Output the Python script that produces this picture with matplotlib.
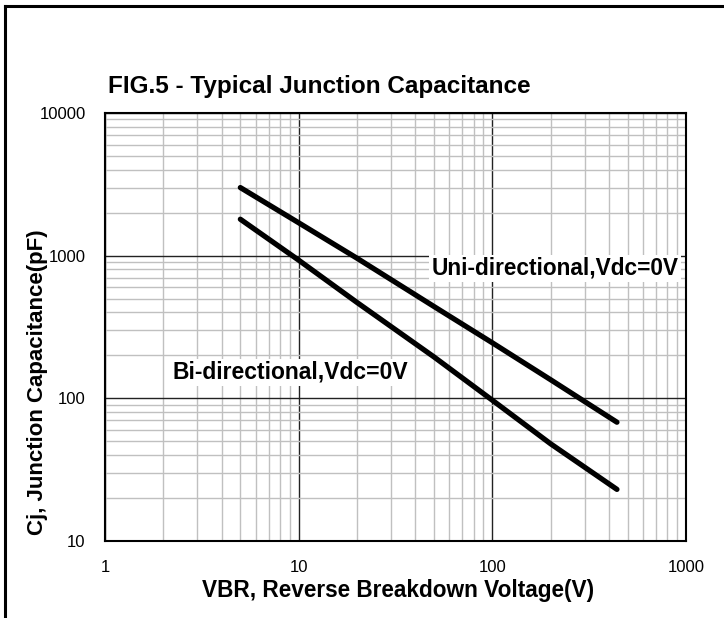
import matplotlib
matplotlib.use("Agg")
import matplotlib.pyplot as plt
from matplotlib.lines import Line2D
from matplotlib.ticker import LogLocator, NullFormatter, FixedLocator, FixedFormatter

plt.rcParams['font.family'] = ['Liberation Sans', 'DejaVu Sans']

# data
vbr_uni = [5, 10, 20, 50, 100, 200, 440]
cj_uni = [3000, 1700, 960, 440, 245, 135, 68]
vbr_bi = [5, 10, 20, 50, 100, 200, 440]
cj_bi = [1800, 930, 470, 195, 97, 48, 23]

x_ticks = [1, 10, 100, 1000]
y_ticks = [10, 100, 1000, 10000]

fig = plt.figure(figsize=(7.24, 6.18), dpi=100)
ax = fig.add_axes([0.145, 0.1246, 0.8025, 0.6926])

ax.set_xscale('log')
ax.set_yscale('log')
ax.set_xlim(1, 1000)
ax.set_ylim(10, 10000)

ax.plot(vbr_uni, cj_uni, color='black', linewidth=3.8, solid_capstyle='round', zorder=3)
ax.plot(vbr_bi, cj_bi, color='black', linewidth=3.8, solid_capstyle='round', zorder=3)

# grid: dark majors, light gray minors
ax.xaxis.set_minor_locator(LogLocator(base=10, subs=range(2, 10)))
ax.yaxis.set_minor_locator(LogLocator(base=10, subs=range(2, 10)))
ax.xaxis.set_minor_formatter(NullFormatter())
ax.yaxis.set_minor_formatter(NullFormatter())
ax.grid(which='minor', color='#c0c0c0', linewidth=1.0)
ax.grid(which='major', color='#222222', linewidth=1.0)
ax.set_axisbelow(True)

ax.xaxis.set_major_locator(FixedLocator(x_ticks))
ax.xaxis.set_major_formatter(FixedFormatter([str(v) for v in x_ticks]))
ax.yaxis.set_major_locator(FixedLocator(y_ticks))
ax.yaxis.set_major_formatter(FixedFormatter([str(v) for v in y_ticks]))
ax.tick_params(which='both', length=0, labelsize=12)
ax.tick_params(axis='x', pad=14)
ax.tick_params(axis='y', pad=14)

for s in ax.spines.values():
    s.set_linewidth(1.5)
    s.set_color('black')

lbl_box = dict(facecolor='white', edgecolor='none', pad=1.5)
ax.text(0.562, 0.637, 'Uni-directional,Vdc=0V', transform=ax.transAxes,
        fontsize=16.3, fontweight='bold', va='center', ha='left', bbox=lbl_box, zorder=4)
ax.text(0.117, 0.394, 'Bi-directional,Vdc=0V', transform=ax.transAxes,
        fontsize=16.5, fontweight='bold', va='center', ha='left', bbox=lbl_box, zorder=4)

fig.text(108 / 724, 1 - 87 / 618, 'FIG.5 - Typical Junction Capacitance',
         fontsize=17.5, fontweight='bold', va='center', ha='left')
fig.text(398 / 724, 1 - 591 / 618, 'VBR, Reverse Breakdown Voltage(V)',
         fontsize=16.3, fontweight='bold', va='center', ha='center')
fig.text(38 / 724, 1 - 535 / 618, 'Cj, Junction Capacitance(pF)',
         fontsize=16, fontweight='bold', va='bottom', ha='center', rotation=90)

# outer frame (top and left only)
fig.add_artist(Line2D([5 / 724, 1.0], [1 - 6 / 618, 1 - 6 / 618], color='black', linewidth=2.2))
fig.add_artist(Line2D([5 / 724, 5 / 724], [1 - 6 / 618, 0.0], color='black', linewidth=2.2))

fig.savefig('out.png', dpi=100)
